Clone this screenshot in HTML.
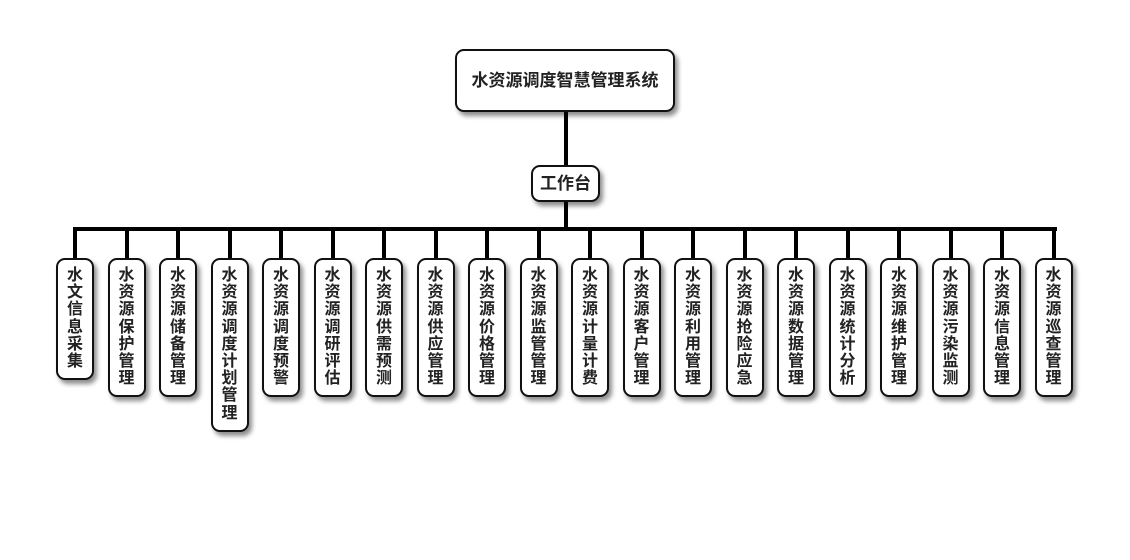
<!DOCTYPE html>
<html><head><meta charset="utf-8"><style>
body{margin:0;width:1130px;height:560px;background:#fff;position:relative;overflow:hidden;font-family:"Liberation Sans","Noto Sans CJK SC",sans-serif;font-weight:bold;color:#222}
.b{position:absolute;background:#fff;border:2px solid #111;border-radius:9px;box-shadow:3px 4px 5px rgba(0,0,0,.45);box-sizing:border-box;text-align:center}
.l{position:absolute;background:#000}
.c{top:258px;width:38px;font-size:16px;line-height:17.2px;padding:7px 0 8px;}
</style></head><body>
<div class="l" style="left:564px;top:112px;width:4px;height:54px"></div>
<div class="l" style="left:564px;top:200px;width:4px;height:30px"></div>
<div class="l" style="left:73px;top:227px;width:984px;height:4px"></div>
<div class="b" style="left:455px;top:49px;width:220px;height:63px;line-height:59px;font-size:17px">水资源调度智慧管理系统</div>
<div class="b" style="left:531px;top:165px;width:69px;height:37px;line-height:33px;font-size:17px">工作台</div>
<div id="k"></div>
<script>
var n=["水文信息采集","水资源保护管理","水资源储备管理","水资源调度计划管理","水资源调度预警","水资源调研评估","水资源供需预测","水资源供应管理","水资源价格管理","水资源监管管理","水资源计量计费","水资源客户管理","水资源利用管理","水资源抢险应急","水资源数据管理","水资源统计分析","水资源维护管理","水资源污染监测","水资源信息管理","水资源巡查管理"];
var h="";
n.forEach(function(t,i){var cx=75+i*51.5;
h+='<div class="l" style="left:'+(cx-2)+'px;top:229px;width:4px;height:30px"></div>';
h+='<div class="b c" style="left:'+(cx-19)+'px">'+t.split("").join("<br>")+'</div>';});
document.getElementById("k").innerHTML=h;
</script>
</body></html>
